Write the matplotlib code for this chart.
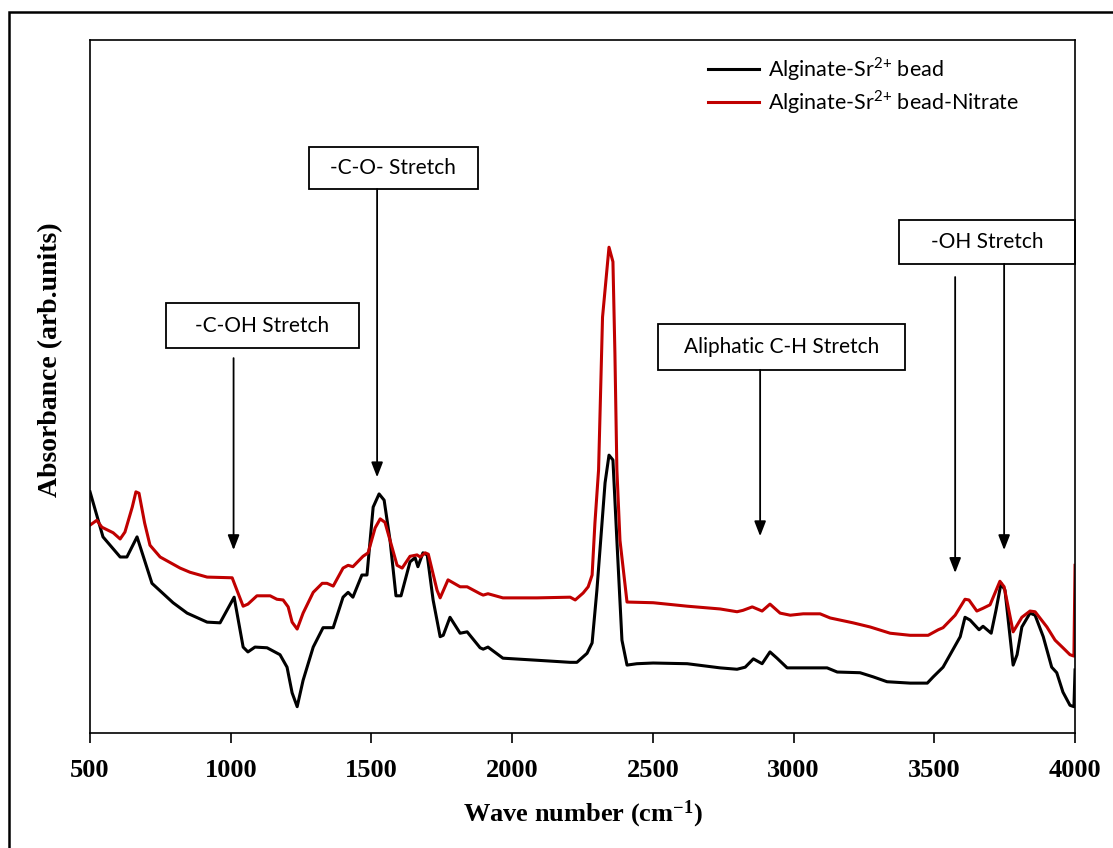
import matplotlib
matplotlib.use('Agg')
import matplotlib.pyplot as plt
from matplotlib.patches import Rectangle

plt.rcParams['mathtext.fontset'] = 'custom'
plt.rcParams['mathtext.rm'] = 'Lato'
plt.rcParams['mathtext.bf'] = 'Liberation Serif:bold'

# ---- data (arbitrary absorbance units) ----
wn_bead = [500, 546, 607, 631, 667, 720, 795, 845, 916, 962, 1012, 1044, 1061, 1086,
           1129, 1175, 1200, 1218, 1236, 1257, 1293, 1328, 1364, 1399, 1417, 1434,
           1466, 1484, 1506, 1527, 1545, 1566, 1587, 1605, 1637, 1655, 1665, 1683,
           1698, 1719, 1744, 1755, 1779, 1815, 1840, 1886, 1897, 1914, 1967, 2088,
           2206, 2230, 2266, 2284, 2301, 2330, 2344, 2358, 2372, 2390, 2408, 2443,
           2501, 2622, 2739, 2799, 2828, 2857, 2888, 2916, 2941, 2977, 3034, 3119,
           3155, 3236, 3283, 3332, 3414, 3475, 3496, 3531, 3556, 3592, 3609, 3627,
           3659, 3673, 3702, 3719, 3737, 3751, 3780, 3794, 3811, 3840, 3858, 3887,
           3917, 3935, 3957, 3982, 3996, 4000]
abs_bead = [0.348, 0.283, 0.254, 0.254, 0.283, 0.216, 0.188, 0.173, 0.160, 0.159, 0.196,
            0.124, 0.117, 0.124, 0.123, 0.113, 0.095, 0.058, 0.038, 0.076, 0.124, 0.152,
            0.152, 0.196, 0.203, 0.196, 0.228, 0.228, 0.326, 0.345, 0.336, 0.278, 0.198,
            0.198, 0.247, 0.253, 0.240, 0.260, 0.257, 0.192, 0.139, 0.141, 0.167, 0.144,
            0.146, 0.123, 0.121, 0.124, 0.108, 0.105, 0.102, 0.102, 0.115, 0.130, 0.206,
            0.361, 0.401, 0.394, 0.278, 0.134, 0.098, 0.100, 0.101, 0.100, 0.094, 0.092,
            0.095, 0.107, 0.100, 0.117, 0.108, 0.094, 0.094, 0.094, 0.088, 0.087, 0.081,
            0.074, 0.072, 0.072, 0.081, 0.095, 0.113, 0.139, 0.167, 0.163, 0.149, 0.154,
            0.144, 0.177, 0.216, 0.206, 0.098, 0.113, 0.153, 0.173, 0.170, 0.139, 0.095,
            0.087, 0.059, 0.040, 0.038, 0.091]

wn_nitrate = [500, 524, 542, 582, 607, 624, 650, 663, 674, 694, 713, 749, 820, 855, 916,
              1005, 1022, 1044, 1061, 1093, 1140, 1164, 1186, 1204, 1218, 1236, 1257,
              1293, 1325, 1342, 1364, 1399, 1417, 1434, 1470, 1488, 1513, 1531, 1548,
              1573, 1591, 1609, 1637, 1662, 1673, 1691, 1702, 1733, 1744, 1772, 1815,
              1840, 1886, 1897, 1914, 1967, 2088, 2206, 2224, 2252, 2270, 2284, 2294,
              2307, 2321, 2344, 2358, 2365, 2372, 2383, 2408, 2501, 2622, 2739, 2799,
              2820, 2853, 2888, 2916, 2952, 2988, 3034, 3094, 3130, 3211, 3272, 3343,
              3414, 3478, 3514, 3531, 3574, 3609, 3623, 3651, 3673, 3698, 3733, 3748,
              3780, 3811, 3840, 3858, 3900, 3929, 3957, 3982, 3996, 4000]
abs_nitrate = [0.300, 0.307, 0.297, 0.289, 0.280, 0.290, 0.326, 0.348, 0.346, 0.303, 0.271,
               0.254, 0.238, 0.232, 0.225, 0.224, 0.206, 0.183, 0.186, 0.198, 0.198, 0.193,
               0.192, 0.182, 0.160, 0.150, 0.173, 0.203, 0.216, 0.216, 0.212, 0.238, 0.242,
               0.240, 0.255, 0.260, 0.296, 0.309, 0.304, 0.268, 0.242, 0.238, 0.255, 0.257,
               0.254, 0.260, 0.258, 0.206, 0.195, 0.221, 0.211, 0.211, 0.201, 0.199, 0.201,
               0.195, 0.195, 0.196, 0.192, 0.202, 0.211, 0.228, 0.303, 0.380, 0.600, 0.701,
               0.680, 0.548, 0.380, 0.278, 0.189, 0.188, 0.183, 0.179, 0.175, 0.177, 0.182,
               0.176, 0.186, 0.173, 0.170, 0.172, 0.172, 0.166, 0.159, 0.153, 0.144, 0.141,
               0.141, 0.149, 0.152, 0.170, 0.193, 0.192, 0.176, 0.180, 0.185, 0.219, 0.211,
               0.146, 0.167, 0.176, 0.175, 0.153, 0.134, 0.123, 0.113, 0.111, 0.242]

series_labels = [r'Alginate-Sr$^{2{+}}$ bead', r'Alginate-Sr$^{2{+}}$ bead-Nitrate']
x_ticks = [500, 1000, 1500, 2000, 2500, 3000, 3500, 4000]

fig = plt.figure(figsize=(11.13, 8.48), dpi=100)
ax = fig.add_axes([0.0809, 0.1356, 0.885, 0.8172])

ax.plot(wn_bead, abs_bead, color='black', lw=2.2, label=series_labels[0])
ax.plot(wn_nitrate, abs_nitrate, color='#C00000', lw=2.2, label=series_labels[1])

ax.set_xlim(500, 4000)
ax.set_ylim(0, 1)
ax.set_xticks(x_ticks)
ax.set_yticks([])
ax.tick_params(axis='x', direction='out', length=7, width=1.2, pad=12)
for lbl in ax.get_xticklabels():
    lbl.set_fontfamily('Liberation Serif')
    lbl.set_fontweight('bold')
    lbl.set_fontsize(19)
for sp in ax.spines.values():
    sp.set_linewidth(1.2)

ax.set_xlabel(r'Wave number (cm$\mathbf{^{-1}}$)', family='Liberation Serif',
              fontweight='bold', fontsize=19, labelpad=12)
ax.set_ylabel('Absorbance (arb.units)', family='Liberation Serif',
              fontweight='bold', fontsize=20)
ax.yaxis.set_label_coords(-0.027, 0.538)

leg = ax.legend(loc='upper left', bbox_to_anchor=(0.627, 0.978), frameon=False,
                prop={'family': 'Lato', 'size': 15.5}, handlelength=2.4,
                handletextpad=0.4, labelspacing=0.22, borderpad=0, borderaxespad=0)

# ---- peak annotation boxes and arrows ----
def label_box(xc, yc, w, h, text):
    ax.add_patch(Rectangle((xc - w / 2, yc - h / 2), w, h, fill=False,
                           edgecolor='black', lw=1.3, clip_on=False, zorder=5))
    ax.text(xc, yc, text, ha='center', va='center', family='Lato', fontsize=15,
            zorder=6)

def arrow(x, y0, y1):
    ax.annotate('', xy=(x, y1), xytext=(x, y0),
                arrowprops=dict(arrowstyle='-|>,head_length=0.9,head_width=0.35',
                                color='black', lw=1.3, shrinkA=0, shrinkB=0))

label_box(1113, 0.588, 686, 0.065, '-C-OH Stretch')
arrow(1010, 0.541, 0.264)
label_box(1578, 0.815, 600, 0.061, '-C-O- Stretch')
arrow(1520, 0.785, 0.369)
label_box(2957, 0.557, 878, 0.066, 'Aliphatic C-H Stretch')
arrow(2881, 0.524, 0.284)
label_box(3688, 0.709, 625, 0.063, '-OH Stretch')
arrow(3574, 0.658, 0.231)
arrow(3748, 0.677, 0.264)

# outer frame around the figure
fig.patches.append(Rectangle((0.0081, -0.2), 1.2, 1.1858, transform=fig.transFigure,
                             fill=False, edgecolor='black', lw=1.8))

fig.savefig('out.png', dpi=100)
